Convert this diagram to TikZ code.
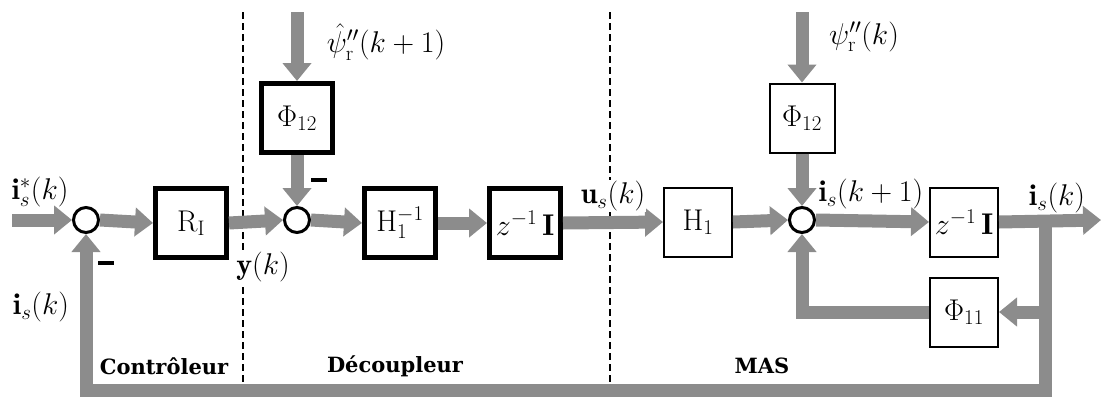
\documentclass[tikz,border=0pt]{standalone}
\usepackage{fix-cm}
\usepackage{fontspec}
\newfontfamily\zonefont{DejaVu Serif}
\usetikzlibrary{arrows.meta}
\tikzset{
  flow/.style={line width=13pt, draw=gray!90, -{Triangle[width=28pt,length=18pt]}},
  blocfort/.style={draw, line width=5pt, minimum width=71pt, minimum height=69pt, inner sep=0pt},
  blocmas/.style={draw, line width=2pt, minimum width=68pt, minimum height=69pt, inner sep=0pt},
  somme/.style={circle, draw, line width=3pt, fill=white, minimum size=25pt, inner sep=0pt},
  etiq/.style={fill=white, inner sep=1pt},
  zone/.style={draw, line width=1.6pt, dash pattern=on 7pt off 4pt},
  zonetxt/.style={font=\fontsize{21}{25}\selectfont\zonefont\bfseries},
}
\begin{document}
\begin{tikzpicture}[x=1pt, y=-1pt, font=\fontsize{30}{34}\selectfont]
  \useasboundingbox (0,0) rectangle (1103,397);
  \coordinate (d1a) at (243,12); \coordinate (d1b) at (243,383);
  \coordinate (d2a) at (610,12); \coordinate (d2b) at (610,383);
  \draw[zone] (d1a) -- (d1b);
  \draw[zone] (d2a) -- (d2b);

  \node[somme] (s1) at (86,220) {};
  \node[somme] (s2) at (297,220) {};
  \node[somme] (s3) at (802,220) {};
  \node[blocfort] (RI) at (191,223) {$\mathrm{R}_{\mathrm{I}}$};
  \node[blocfort] (PhiA) at (297,118) {$\Phi_{12}$};
  \node[blocfort] (Hinv) at (400,223) {$\mathrm{H}_1^{-1}$};
  \node[blocfort] (zA) at (525,223) {$z^{-1}\,\mathbf{I}$};
  \node[blocmas] (H1) at (698,222) {$\mathrm{H}_1$};
  \node[blocmas, minimum width=65pt] (PhiB) at (802,118) {$\Phi_{12}$};
  \node[blocmas] (zB) at (964,222) {$z^{-1}\,\mathbf{I}$};
  \node[blocmas] (Phi11) at (964,312) {$\Phi_{11}$};

  \coordinate (in) at (12,220);
  \coordinate (out) at (1101,220);
  \coordinate (hautA) at (297,12);
  \coordinate (hautB) at (802,12);
  \coordinate (br) at (1045,220);
  \coordinate (brphi) at (1045,312);
  \coordinate (bas) at (86,390);

  \draw[flow] (in) -- (s1.west);
  \draw[flow] (s1.east) -- (RI.west);
  \draw[flow] (RI.east) -- (s2.west);
  \draw[flow] (hautA) -- (PhiA.north);
  \draw[flow] (PhiA.south) -- (s2.north);
  \draw[flow] (s2.east) -- (Hinv.west);
  \draw[flow] (Hinv.east) -- (zA.west);
  \draw[flow] (zA.east) -- (H1.west);
  \draw[flow] (H1.east) -- (s3.west);
  \draw[flow] (hautB) -- (PhiB.north);
  \draw[flow] (PhiB.south) -- (s3.north);
  \draw[flow] (s3.east) -- (zB.west);
  \draw[flow] (zB.east) -- (out);
  \draw[flow] (br) |- (bas) -- (s1.south);
  \draw[flow] (brphi) -- (Phi11.east);
  \draw[flow] (Phi11.west) -| (s3.south);

  \node (lin) at (40,192) {$\mathbf{i}^{*}_{s}(k)$};
  \node (lfb) at (41,307) {$\mathbf{i}_s(k)$};
  \node[etiq] (ly) at (263,267) {$\mathbf{y}(k)$};
  \node (lpsiA) at (386,42) {$\hat{\psi}''_{\mathrm{r}}(k+1)$};
  \node[etiq] (lu) at (613,196) {$\mathbf{u}_s(k)$};
  \node (lpsiB) at (864,37) {$\psi''_{\mathrm{r}}(k)$};
  \node (lik1) at (871,194) {$\mathbf{i}_s(k+1)$};
  \node (lout) at (1057,198) {$\mathbf{i}_s(k)$};
  \node (m1) at (106,263) {\rule{16pt}{4pt}};
  \node (m2) at (319,180) {\rule{16pt}{4pt}};

  \node[zonetxt] (zc) at (164,366) {Contrôleur};
  \node[zonetxt] (zd) at (395,366) {Découpleur};
  \node[zonetxt] (zm) at (762,366) {MAS};
\end{tikzpicture}
\end{document}
